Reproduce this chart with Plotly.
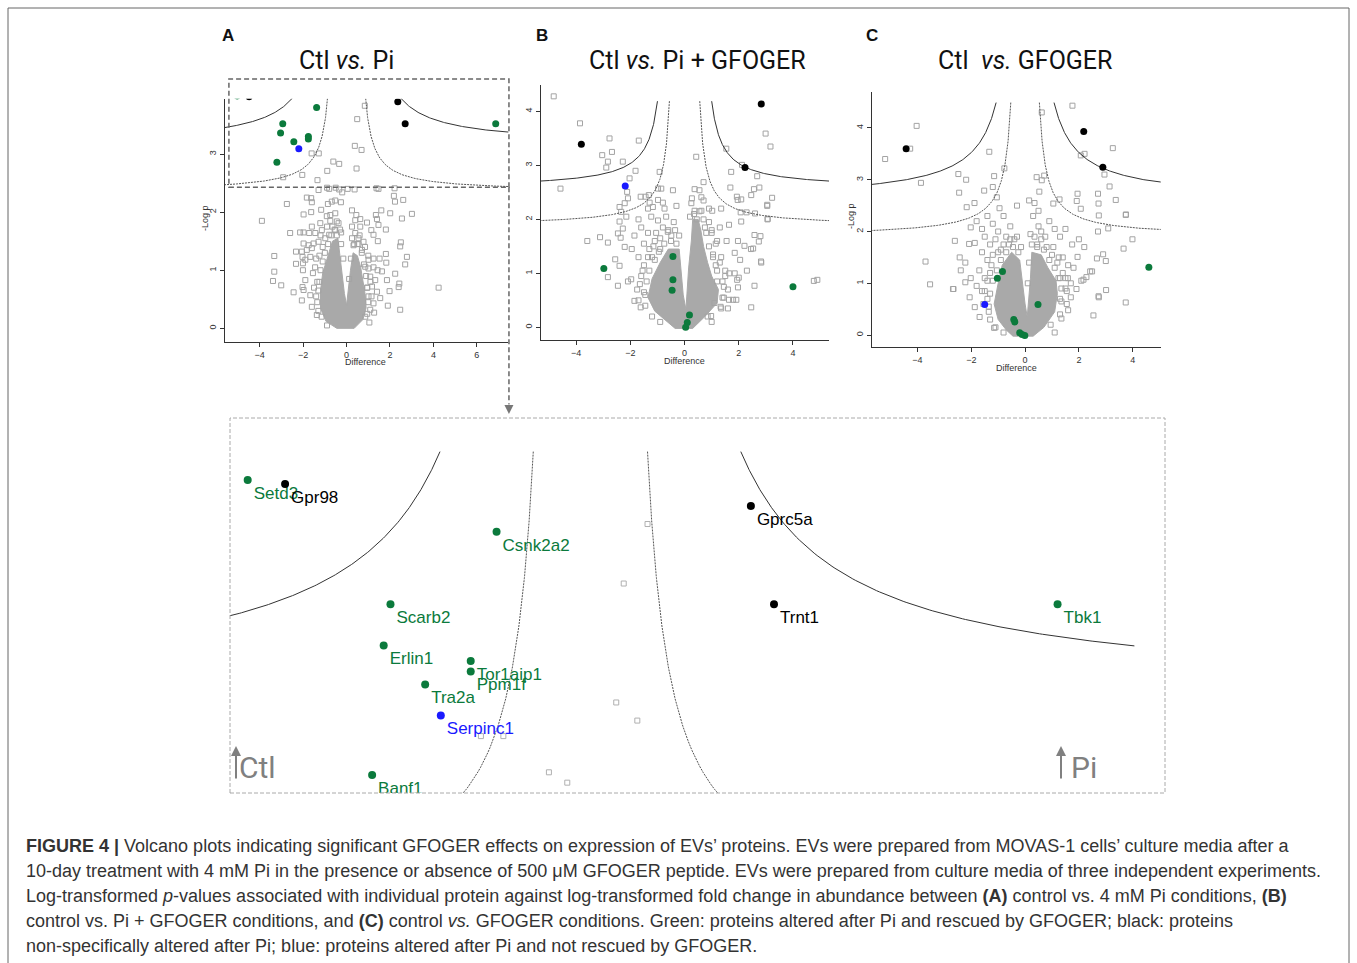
import numpy as np
import plotly.graph_objects as go

W, H = 1357, 963

# ---------------- DATA ----------------
# Panel A (Ctl vs. Pi) - highlighted proteins
A_names = ["Setd3", "Gpr98", "Csnk2a2", "Scarb2", "Erlin1", "Tor1aip1", "Ppm1f",
           "Tra2a", "Serpinc1", "Banf1", "Gprc5a", "Trnt1", "Tbk1"]
A_x = [-5.04, -4.49, -1.38, -2.94, -3.04, -1.76, -1.76, -2.43, -2.20, -3.21, 2.36, 2.70, 6.87]
A_y = [4.00, 3.985, 3.80, 3.52, 3.36, 3.30, 3.26, 3.21, 3.09, 2.86, 3.90, 3.52, 3.52]
A_grp = ["g", "k", "g", "g", "g", "g", "g", "g", "b", "g", "k", "k", "g"]

# Panel B (Ctl vs. Pi + GFOGER)
B_x = [2.83, -3.81, 2.23, -2.19, -2.98, -0.43, -0.43, -0.46, 4.0, 0.18, 0.10, 0.04]
B_y = [4.14, 3.39, 2.96, 2.62, 1.09, 1.31, 0.88, 0.685, 0.75, 0.23, 0.09, 0.0]
B_grp = ["k", "k", "k", "b", "g", "g", "g", "g", "g", "g", "g", "g"]

# Panel C (Ctl vs. GFOGER)
C_x = [-4.42, 2.18, 2.89, -1.50, -0.84, -1.03, 0.48, -0.42, -0.38, -0.20, -0.11, -0.01, 4.60]
C_y = [3.60, 3.93, 3.24, 0.59, 1.23, 1.10, 0.59, 0.30, 0.255, 0.045, 0.01, -0.01, 1.31]
C_grp = ["k", "k", "k", "b", "g", "g", "g", "g", "g", "g", "g", "g", "g"]

# other (non-highlighted) proteins, open grey squares
A_gray = [(0.84, 3.83), (0.49, 3.60), (0.38, 3.14), (0.69, 3.07), (0.46, 2.75), (-0.61, 2.87), (-0.34, 2.83),
          (-0.89, 2.71), (-1.61, 3.01), (-1.28, 3.01), (-2.04, 2.64), (-1.34, 2.55), (-2.92, 2.60),
          (-1.29, 2.38), (-0.80, 2.40), (-0.34, 2.39), (-0.2, 2.34), (0.37, 2.39), (1.47, 2.40), (2.21, 2.41),
          (-0.9, 2.42), (-0.5, 2.42), (0.05, 2.40), (1.38, 2.41), (2.18, 2.28), (2.23, 2.18), (2.61, 2.21),
          (-2.75, 2.14), (-3.90, 1.85), (-1.83, 2.25), (-1.63, 2.24), (-1.60, 2.17), (-1.98, 1.96), (-1.63, 2.0),
          (-0.86, 2.14), (-0.68, 2.18), (-0.52, 2.20), (-0.26, 2.17), (-1.17, 2.04), (-0.91, 1.93), (-0.75, 1.95),
          (-0.52, 1.98), (-0.45, 1.84), (-2.6, 1.64), (-2.14, 1.65), (-1.98, 1.65), (-3.33, 1.245), (-2.33, 1.32),
          (-3.33, 0.975), (-3.39, 0.815), (-3.01, 0.74), (-2.44, 0.62), (-2.06, 0.48), (-2.03, 0.71), (-2.33, 1.11),
          (-2.01, 1.12), (-2.03, 1.23), (3.01, 1.97), (2.55, 1.89), (2.01, 1.98), (1.60, 2.03), (1.35, 1.95),
          (1.40, 1.88), (1.47, 1.78), (1.81, 1.70), (0.25, 2.03), (0.45, 1.95), (0.63, 1.88), (0.94, 1.82),
          (1.14, 1.69), (1.24, 1.61), (1.44, 1.50), (2.50, 1.48), (2.47, 1.41), (1.81, 1.28), (1.52, 1.20),
          (2.78, 1.23), (2.70, 1.10), (2.24, 0.94), (2.43, 0.77), (2.40, 0.71), (4.24, 0.70), (1.86, 0.83),
          (1.98, 0.64), (1.55, 0.52), (1.90, 0.39), (2.47, 0.32), (1.27, 0.27), (1.01, 1.03), (1.24, 1.05),
          (1.43, 1.00), (1.63, 0.98), (1.83, 1.13), (-1.60, 1.75), (-1.44, 1.64), (-1.21, 1.81), (-1.14, 1.69),
          (-1.72, 1.64), (-1.98, 1.46), (-1.75, 1.43), (-1.52, 1.46), (-1.29, 1.49), (-0.98, 1.55), (-0.80, 1.61),
          (-0.52, 1.69), (-0.37, 1.81), (-2.06, 1.32), (-1.83, 1.35), (-1.6, 1.38), (-1.9, 1.18), (-1.67, 1.23),
          (-2.01, 1.00), (-1.9, 0.83), (-1.98, 0.66), (-1.67, 0.57), (-1.6, 0.37), (-1.37, 0.23), (-1.45, 1.05),
          (-1.35, 0.8), (-1.4, 0.55), (0.40, 1.64), (0.55, 1.55), (0.78, 1.49), (0.32, 1.43), (0.71, 1.35),
          (1.01, 1.18), (1.24, 1.20), (0.86, 1.06), (1.09, 0.89), (1.32, 0.83), (1.17, 0.72), (1.40, 0.63),
          (1.01, 0.55), (1.24, 0.43), (1.09, 0.32), (0.86, 0.20), (0.40, 1.86), (0.25, 1.75), (0.63, 1.75),
          (-0.65, 1.75), (-0.25, 1.65), (0.5, 1.45), (0.95, 0.7), (-1.25, 1.25), (-1.1, 1.4),
          # halo around the dense centre
          (-1.3, 0.3), (-1.35, 0.45), (-1.3, 0.65), (-1.25, 0.8), (-1.2, 1.0), (-1.1, 1.15), (-1.0, 1.3),
          (-0.85, 1.45), (-0.7, 1.6), (-0.55, 1.7), (-0.45, 1.6), (-1.15, 0.2), (-0.9, 0.05), (-1.5, 0.7),
          (-1.55, 0.95), (-1.4, 1.2), (-1.2, 1.6), (-0.9, 1.75), (-0.75, 1.85), (-0.3, 1.7), (-0.25, 1.45),
          (-0.15, 1.2), (0.95, 0.25), (1.0, 0.45), (0.95, 0.7), (0.9, 0.9), (0.8, 1.1), (0.7, 1.3), (0.55, 1.45),
          (0.35, 1.45), (0.25, 1.55), (1.05, 0.1), (1.15, 0.55), (1.1, 0.8), (1.0, 1.25), (0.85, 1.4), (0.6, 1.6),
          (0.2, 1.2), (0.12, 0.85)]

B_gray = [(-4.83, 4.28), (-3.86, 3.78), (-2.77, 3.50), (-1.69, 3.46), (-3.04, 3.19), (-2.68, 3.25), (-2.83, 3.07),
          (-2.89, 2.96), (-2.28, 3.07), (-1.81, 2.90), (-2.03, 2.76), (-4.58, 2.57), (-2.12, 2.51), (-2.09, 2.39),
          (-2.21, 2.30), (-2.40, 2.23), (-2.34, 2.14), (-1.62, 2.42), (-1.44, 2.42), (-1.32, 2.45), (-0.98, 2.57),
          (-0.86, 2.57), (-0.43, 2.54), (-0.92, 2.88), (0.43, 3.16), (0.37, 2.56), (0.55, 2.54), (0.70, 2.69),
          (0.27, 2.39), (0.62, 2.41), (0.70, 2.35), (0.37, 2.16), (0.62, 2.16), (1.02, 2.16), (1.35, 2.20),
          (1.54, 3.31), (2.12, 3.01), (1.72, 2.88), (2.99, 3.59), (3.17, 3.35), (2.68, 2.80), (2.56, 2.56),
          (2.76, 2.59), (1.69, 2.59), (1.93, 2.42), (2.09, 2.37), (2.46, 2.45), (3.23, 2.40), (3.05, 2.27),
          (2.07, 2.13), (3.06, 2.0), (2.6, 2.11), (2.29, 2.13), (1.96, 2.36), (-1.29, 2.31), (-1.17, 2.23),
          (-0.98, 2.36), (-0.80, 2.31), (-0.74, 2.20), (-1.35, 2.20), (-2.4, 1.96), (-2.28, 1.83), (-2.46, 1.74),
          (-2.15, 2.05), (-1.7, 2.0), (-1.6, 1.85), (-1.23, 2.05), (-0.98, 1.98), (-0.68, 2.05), (-0.62, 1.77),
          (-0.49, 1.70), (-1.5, 1.55), (-1.85, 1.7), (-1.35, 1.75), (-1.1, 1.6), (-0.8, 1.85), (-1.95, 1.45),
          (-1.7, 1.3), (-1.5, 1.15), (-1.3, 1.45), (-1.6, 0.95), (-1.75, 0.7), (-1.45, 0.6), (-1.2, 1.3),
          (-3.59, 1.60), (-3.12, 1.67), (-2.83, 1.57), (-2.83, 0.93), (-2.46, 0.77), (-2.56, 1.26), (-2.40, 1.14),
          (-2.36, 1.66), (-2.21, 1.49), (-1.85, 0.49), (-1.62, 0.37), (-2.09, 0.85), (-1.97, 0.89),
          (1.97, 1.60), (2.21, 1.51), (2.58, 1.71), (2.80, 1.69), (1.85, 1.38), (2.83, 1.20), (2.58, 0.77),
          (2.46, 0.37), (1.97, 0.74), (1.91, 0.51), (1.79, 0.51), (1.64, 0.51), (1.33, 0.38), (0.98, 0.21),
          (4.77, 0.86), (4.9, 0.88), (1.64, 1.90), (2.09, 1.96), (3.07, 2.01), (3.05, 2.25), (1.5, 1.05),
          (1.65, 1.0), (1.85, 1.0), (1.35, 1.3), (1.2, 1.6), (1.0, 1.75), (0.9, 1.95), (0.75, 1.85), (1.45, 0.75),
          (1.2, 0.85), (1.05, 1.35), (1.3, 1.85), (1.55, 1.6), (2.3, 1.05), (2.05, 1.25), (2.45, 1.45), (0.85, 0.2),
          (1.1, 0.45), (2.0, 0.92), (2.74, 1.59), (2.53, 1.46), (2.82, 1.22), (1.94, 0.88), (-0.9, 1.45),
          (-1.05, 1.75), (-0.4, 1.95), (-0.3, 2.25), (0.45, 2.0), (1.15, 1.15), (1.4, 0.55),
          # halo around the dense centre
          (-1.45, 0.4), (-1.5, 0.65), (-1.4, 0.85), (-1.3, 1.05), (-1.1, 1.25), (-0.95, 1.4), (-0.75, 1.55),
          (-0.5, 1.6), (-0.3, 1.55), (-0.2, 1.7), (-1.2, 0.2), (-0.9, 0.1), (-1.7, 0.5), (-1.65, 0.8),
          (-1.55, 1.05), (-1.35, 1.3), (-1.15, 1.5), (-0.9, 1.65), (-0.6, 1.8), (-0.35, 1.8), (1.35, 0.35),
          (1.45, 0.55), (1.4, 0.85), (1.2, 1.05), (1.05, 1.3), (0.9, 1.5), (0.8, 1.75), (0.7, 2.0), (0.55, 2.15),
          (0.35, 2.1), (0.2, 2.05), (1.0, 0.1), (1.6, 0.35), (1.6, 0.7), (1.5, 0.95), (1.3, 1.2), (1.15, 1.55),
          (1.0, 1.8), (0.9, 2.2), (0.25, 2.3)]

C_gray = [(-4.03, 4.04), (-5.2, 3.40), (-3.87, 2.94), (-4.27, 3.60), (-1.33, 3.54), (1.76, 4.43), (0.62, 4.30),
          (2.21, 3.50), (2.07, 3.47), (3.26, 3.61), (2.95, 3.10), (3.14, 2.87), (3.37, 2.61), (3.75, 2.33),
          (2.71, 2.73), (2.73, 2.54), (1.95, 2.73), (1.92, 2.59), (2.07, 2.44), (1.28, 2.62), (1.05, 2.54),
          (0.43, 3.05), (0.62, 2.99), (0.71, 3.08), (0.53, 2.77), (-2.48, 3.11), (-2.19, 3.00), (-2.45, 2.75),
          (-1.52, 2.79), (-1.20, 2.86), (-1.15, 3.07), (-1.05, 2.66), (-0.77, 3.22), (-1.88, 2.55), (-2.17, 2.47),
          (-3.70, 1.42), (-3.53, 0.98), (-2.68, 0.89), (-2.61, 1.82), (-2.43, 1.50), (-2.39, 1.25), (-2.22, 1.02),
          (-2.22, 1.40), (-2.02, 1.10), (-2.08, 1.76), (-1.87, 1.78), (-2.06, 0.73), (-1.87, 0.54), (-1.69, 0.35),
          (-1.15, 0.14), (-2.02, 2.08), (-1.8, 2.2), (-1.6, 2.05), (-1.4, 2.3), (-1.2, 2.15), (-1.0, 2.0),
          (-0.8, 2.3), (-1.5, 1.9), (-1.3, 1.75), (-1.1, 1.85), (-0.9, 1.65), (-0.7, 1.9), (-1.6, 1.6), (-1.4, 1.45),
          (-1.2, 1.55), (-1.7, 1.25), (-1.5, 1.1), (-1.3, 1.2), (-1.8, 0.95), (-1.6, 0.85), (-1.4, 0.7),
          (-1.35, 0.45), (-0.6, 1.75), (-0.4, 1.85), (-0.55, 2.1), (2.49, 1.23), (2.74, 0.73), (3.01, 0.87),
          (2.54, 0.38), (3.74, 0.63), (2.90, 1.56), (2.71, 2.0), (3.09, 2.06), (3.74, 2.32), (2.74, 2.31),
          (1.91, 0.89), (2.09, 1.05), (2.28, 1.12), (1.70, 0.73), (1.35, 0.32), (1.60, 0.48), (3.99, 1.85),
          (3.66, 1.67), (3.0, 1.43), (2.67, 1.48), (2.42, 1.23), (1.95, 1.51), (2.73, 0.75), (2.17, 1.07),
          (1.24, 1.10), (1.59, 1.10), (0.5, 2.1), (0.6, 2.0), (0.75, 1.9), (0.9, 2.2), (1.1, 2.05), (1.3, 1.9),
          (1.5, 2.05), (1.75, 1.75), (2.0, 1.85), (2.2, 1.7), (0.8, 1.7), (1.0, 1.55), (1.2, 1.4), (1.4, 1.5),
          (1.6, 1.35), (1.8, 1.3), (1.4, 1.2), (1.5, 0.9), (1.3, 0.7), (1.7, 1.0), (0.35, 1.9), (0.45, 1.75),
          (0.3, 2.3), (0.35, 2.55), (0.5, 2.4), (-2.66, 0.89), (-0.95, 2.45), (0.15, 2.6), (-0.3, 2.5),
          # halo around the dense centre
          (-1.3, 0.3), (-1.35, 0.55), (-1.3, 0.8), (-1.2, 1.05), (-1.05, 1.25), (-0.9, 1.45), (-0.7, 1.6),
          (-0.45, 1.7), (-0.25, 1.6), (-1.1, 0.15), (-0.8, 0.05), (-1.55, 0.6), (-1.5, 0.85), (-1.4, 1.05),
          (-1.25, 1.35), (-1.0, 1.6), (-0.8, 1.75), (-0.55, 1.85), (-0.3, 1.9), (-0.15, 1.7), (0.95, 0.2),
          (1.3, 0.4), (1.35, 0.65), (1.35, 0.9), (1.3, 1.1), (1.1, 1.3), (0.9, 1.45), (0.7, 1.65), (0.45, 1.7),
          (0.25, 1.75), (1.1, 0.05), (1.55, 0.6), (1.55, 0.85), (1.5, 1.1), (1.25, 1.5), (1.05, 1.7), (0.6, 1.85),
          (0.2, 1.95), (0.15, 1.4), (0.1, 1.0)]

# dense centre of each volcano (outline of the solid grey mass)
A_core = [(-0.45, 0.0), (0.35, 0.0), (0.75, 0.15), (0.9, 0.35), (0.85, 0.6), (0.75, 0.85), (0.65, 1.05),
          (0.5, 1.25), (0.3, 1.3), (0.18, 1.0), (0.08, 0.6), (0.0, 0.4), (-0.1, 0.6), (-0.2, 0.95), (-0.3, 1.3),
          (-0.4, 1.55), (-0.65, 1.5), (-0.9, 1.2), (-1.1, 0.95), (-1.2, 0.65), (-1.2, 0.35), (-0.95, 0.12)]
B_core = [(-0.35, -0.02), (0.3, -0.02), (0.75, 0.2), (1.2, 0.45), (1.25, 0.7), (1.0, 0.95), (0.85, 1.2),
          (0.7, 1.5), (0.6, 1.8), (0.5, 2.0), (0.3, 2.0), (0.25, 1.6), (0.15, 1.1), (0.1, 0.6), (0.05, 0.33),
          (-0.05, 0.6), (-0.12, 1.0), (-0.2, 1.45), (-0.6, 1.45), (-0.9, 1.2), (-1.2, 0.9), (-1.35, 0.55),
          (-1.1, 0.3), (-0.7, 0.12)]
C_core = [(-0.45, -0.02), (0.3, -0.02), (0.7, 0.15), (1.1, 0.45), (1.2, 0.8), (1.15, 1.05), (0.85, 1.3),
          (0.6, 1.55), (0.25, 1.6), (0.2, 1.1), (0.12, 0.6), (0.08, 0.35), (0.0, 0.6), (-0.1, 1.0), (-0.2, 1.45),
          (-0.5, 1.6), (-0.85, 1.35), (-1.0, 1.0), (-1.15, 0.6), (-1.0, 0.3), (-0.7, 0.1)]

# significance threshold curves: y = a + b / (|x| - x0)  (outer, inner)
A_curves = [(3.16, 1.455, 0.68), (2.354, 0.597, 0.50)]
B_curves = [(2.573, 0.647, 0.60), (1.88, 0.485, 0.35)]
C_curves = [(2.61, 1.646, 0.20), (1.90, 0.65, 0.28)]

X_TICKS_A = [-4, -2, 0, 2, 4, 6]
X_TICKS_BC = [-4, -2, 0, 2, 4]

COLORS = {"g": "#0b7a3c", "k": "#000000", "b": "#1a1aff"}

# ---------------- LAYOUT GEOMETRY (pixels) ----------------
def px(v):
    return v / W

def py(v):
    return 1 - v / H

panels = {
    "A": dict(xd=(225, 508.3), yd=(341.7, 98.8), xr=(-5.6, 7.45), yr=(-0.23, 3.95), ymax=4.11, xedge=(5.6, 8.0)),
    "B": dict(xd=(540.7, 829), yd=(340, 85), xr=(-5.31, 5.33), yr=(-0.235, 4.49), ymax=4.19, xedge=(5.4, 5.4)),
    "C": dict(xd=(871.7, 1160.7), yd=(346.7, 91.7), xr=(-5.70, 5.04), yr=(-0.224, 4.70), ymax=4.49, xedge=(5.8, 5.8)),
    "D": dict(xd=(230, 1165), yd=(793, 418), xr=(-5.30, 8.45), yr=(2.79, 4.24)),
}
ZOOM_WIN = (-5.42, 7.48, 2.43, 4.29)  # region of panel A enlarged below (data units)


def curve_xy(a, b, x0, ymax, xl, xr):
    xt = x0 + b / (ymax - a)
    ys_steep = np.linspace(ymax, a + b / (xt + 0.6 - x0), 120)
    xs_r = np.concatenate([x0 + b / (ys_steep - a), np.linspace(xt + 0.6, xr, 120)])
    xs_l = np.concatenate([x0 + b / (ys_steep - a), np.linspace(xt + 0.6, xl, 120)])
    yr_ = a + b / (xs_r - x0)
    yl_ = a + b / (xs_l - x0)
    X = list(-xs_l) + [None] + list(xs_r)
    Y = list(yl_) + [None] + list(yr_)
    return X, Y


fig = go.Figure()
axmap = {"A": ("x", "y"), "B": ("x2", "y2"), "C": ("x3", "y3"), "D": ("x4", "y4")}

data = {
    "A": (A_x, A_y, A_grp, A_gray, A_core, A_curves),
    "B": (B_x, B_y, B_grp, B_gray, B_core, B_curves),
    "C": (C_x, C_y, C_grp, C_gray, C_core, C_curves),
}

for key in ["A", "B", "C", "D"]:
    xa, ya = axmap[key]
    src = "A" if key == "D" else key
    cx, cy, cg, gray, core, curves = data[src]
    big = key == "D"
    if not big:
        fig.add_trace(go.Scatter(x=[p[0] for p in core] + [core[0][0]], y=[p[1] for p in core] + [core[0][1]],
                                 fill="toself", fillcolor="#a9a9a9", mode="lines",
                                 line=dict(color="#a9a9a9", width=1), xaxis=xa, yaxis=ya,
                                 hoverinfo="skip", showlegend=False))
    fig.add_trace(go.Scatter(x=[p[0] for p in gray], y=[p[1] for p in gray], mode="markers",
                             marker=dict(symbol="square-open", size=5,
                                         color="#a3a3a3" if not big else "#b0b0b0",
                                         line=dict(width=1)),
                             xaxis=xa, yaxis=ya, showlegend=False, hoverinfo="skip"))
    p = panels[src]
    for i, (a, b, x0) in enumerate(curves):
        X, Y = curve_xy(a, b, x0, p["ymax"], p["xedge"][0], p["xedge"][1])
        fig.add_trace(go.Scatter(x=X, y=Y, mode="lines",
                                 line=dict(color="#333333" if i == 0 else "#555555", width=1,
                                           dash="solid" if i == 0 else "2px,1px"),
                                 xaxis=xa, yaxis=ya, showlegend=False, hoverinfo="skip"))
    for g in ["g", "k", "b"]:
        idx = [i for i, gg in enumerate(cg) if gg == g]
        tr = dict(x=[cx[i] for i in idx], y=[cy[i] for i in idx], xaxis=xa, yaxis=ya, showlegend=False,
                  marker=dict(color=COLORS[g], size=8 if big else 7))
        if big:
            tr.update(mode="markers+text", text=[A_names[i] for i in idx], textposition="bottom right",
                      textfont=dict(family="Liberation Sans, Arial, sans-serif", size=17, color=COLORS[g]))
        else:
            tr.update(mode="markers")
        fig.add_trace(go.Scatter(**tr))

# axes
axis_font = dict(family="Liberation Sans, Arial, sans-serif", size=9, color="#333")
layout = dict(width=W, height=H, margin=dict(l=0, r=0, t=0, b=0), autosize=False,
              paper_bgcolor="white", plot_bgcolor="rgba(0,0,0,0)", showlegend=False)
for key, (xa, ya) in axmap.items():
    p = panels[key]
    xn = "xaxis" + xa[1:]
    yn = "yaxis" + ya[1:]
    if key == "D":
        layout[xn] = dict(domain=[px(p["xd"][0]), px(p["xd"][1])], range=list(p["xr"]), visible=False,
                          anchor=ya)
        layout[yn] = dict(domain=[py(p["yd"][0]), py(p["yd"][1])], range=list(p["yr"]), visible=False,
                          anchor=xa)
        continue
    layout[xn] = dict(domain=[px(p["xd"][0]), px(p["xd"][1])], range=list(p["xr"]), anchor=ya,
                      showline=True, linecolor="#333", linewidth=1, ticks="outside", ticklen=4,
                      tickcolor="#333", tickfont=axis_font, showgrid=False, zeroline=False,
                      tickvals=X_TICKS_A if key == "A" else X_TICKS_BC)
    layout[yn] = dict(domain=[py(p["yd"][0]), py(p["yd"][1])], range=list(p["yr"]), anchor=xa,
                      showline=True, linecolor="#333", linewidth=1, ticks="outside", ticklen=4,
                      tickcolor="#333", tickfont=axis_font, showgrid=False, zeroline=False,
                      tickvals=[0, 1, 2, 3] if key == "A" else [0, 1, 2, 3, 4], tickangle=-90)
fig.update_layout(**layout)

ann = []
shapes = []


def label(text, x, y, font, **kw):
    d = dict(text=text, x=px(x), y=py(y), xref="paper", yref="paper", showarrow=False,
             xanchor="center", yanchor="middle", font=font)
    d.update(kw)
    ann.append(d)


# panel letters and titles
title_font = dict(family="Roboto, Liberation Sans, Arial, sans-serif", size=25, color="#111")
for L, xc in [("A", 228), ("B", 542), ("C", 872)]:
    label("<b>%s</b>" % L, xc, 35, dict(family="Liberation Sans, Arial, sans-serif", size=17, color="#111"))
for t, xc in [("Ctl <i>vs.</i> Pi", 346), ("Ctl <i>vs.</i> Pi + GFOGER", 697), ("Ctl  <i>vs.</i> GFOGER", 1025)]:
    label(t, xc, 60, title_font)
for xc, yc in [(365, 362), (684, 361), (1016, 368)]:
    label("Difference", xc, yc, axis_font)
for xc, yc in [(205, 218), (851, 216)]:
    label("-Log p", xc, yc, axis_font, textangle=-90)

# zoom window on panel A, mapped through panel A's axes
pa = panels["A"]
def a2px(x):
    return pa["xd"][0] + (x - pa["xr"][0]) / (pa["xr"][1] - pa["xr"][0]) * (pa["xd"][1] - pa["xd"][0])
def a2py(y):
    return pa["yd"][0] + (y - pa["yr"][0]) / (pa["yr"][1] - pa["yr"][0]) * (pa["yd"][1] - pa["yd"][0])
zx0, zx1, zy0, zy1 = a2px(ZOOM_WIN[0]), a2px(ZOOM_WIN[1]), a2py(ZOOM_WIN[2]), a2py(ZOOM_WIN[3])
shapes.append(dict(type="rect", xref="paper", yref="paper", x0=px(zx0), x1=px(zx1), y0=py(zy0), y1=py(zy1),
                   line=dict(color="#666", width=1.5, dash="5px,3px")))
pd_ = panels["D"]
shapes.append(dict(type="line", xref="paper", yref="paper", x0=px(zx1), x1=px(zx1), y0=py(zy0),
                   y1=py(pd_["yd"][1] - 14), line=dict(color="#666", width=1.5, dash="5px,3px")))
ann.append(dict(x=px(zx1), y=py(pd_["yd"][1] - 4), ax=0, ay=-11, xref="paper",
                yref="paper", text="", showarrow=True, arrowhead=2,
                arrowsize=1.2, arrowwidth=1.5, arrowcolor="#777"))
# zoom panel border
shapes.append(dict(type="rect", xref="paper", yref="paper", x0=px(pd_["xd"][0]), x1=px(pd_["xd"][1]),
                   y0=py(pd_["yd"][0]), y1=py(pd_["yd"][1]), line=dict(color="#aaa", width=1, dash="4px,2px")))
# Ctl / Pi direction markers
for lab, xa_, xt in [("Ctl", 236, 257), ("Pi", 1061, 1084)]:
    ann.append(dict(x=px(xa_), y=py(746), ax=0, ay=34, xref="paper", yref="paper",
                    text="", showarrow=True, arrowhead=2, arrowsize=1, arrowwidth=2,
                    arrowcolor="#808080"))
    label(lab, xt, 767, dict(family="Roboto, Liberation Sans, Arial, sans-serif", size=30, color="#808080"))

# caption
cap = [
    "<b>FIGURE 4 |</b> Volcano plots indicating significant GFOGER effects on expression of EVs’ proteins. EVs were prepared from MOVAS-1 cells’ culture media after a",
    "10-day treatment with 4 mM Pi in the presence or absence of 500 μM GFOGER peptide. EVs were prepared from culture media of three independent experiments.",
    "Log-transformed <i>p</i>-values associated with individual protein against log-transformed fold change in abundance between <b>(A)</b> control vs. 4 mM Pi conditions, <b>(B)</b>",
    "control vs. Pi + GFOGER conditions, and <b>(C)</b> control <i>vs.</i> GFOGER conditions. Green: proteins altered after Pi and rescued by GFOGER; black: proteins",
    "non-specifically altered after Pi; blue: proteins altered after Pi and not rescued by GFOGER.",
]
for i, line in enumerate(cap):
    ann.append(dict(text=line, x=px(24), y=py(846 + 25 * i), xref="paper", yref="paper", xanchor="left",
                    yanchor="middle", showarrow=False,
                    font=dict(family="Liberation Sans, Arial, sans-serif", size=18, color="#333")))

# outer frame
shapes.append(dict(type="rect", xref="paper", yref="paper", x0=px(8), x1=px(1349), y0=-0.02, y1=py(8),
                   line=dict(color="#666", width=1)))

fig.update_layout(annotations=ann, shapes=shapes)
fig.write_html("out.html")
